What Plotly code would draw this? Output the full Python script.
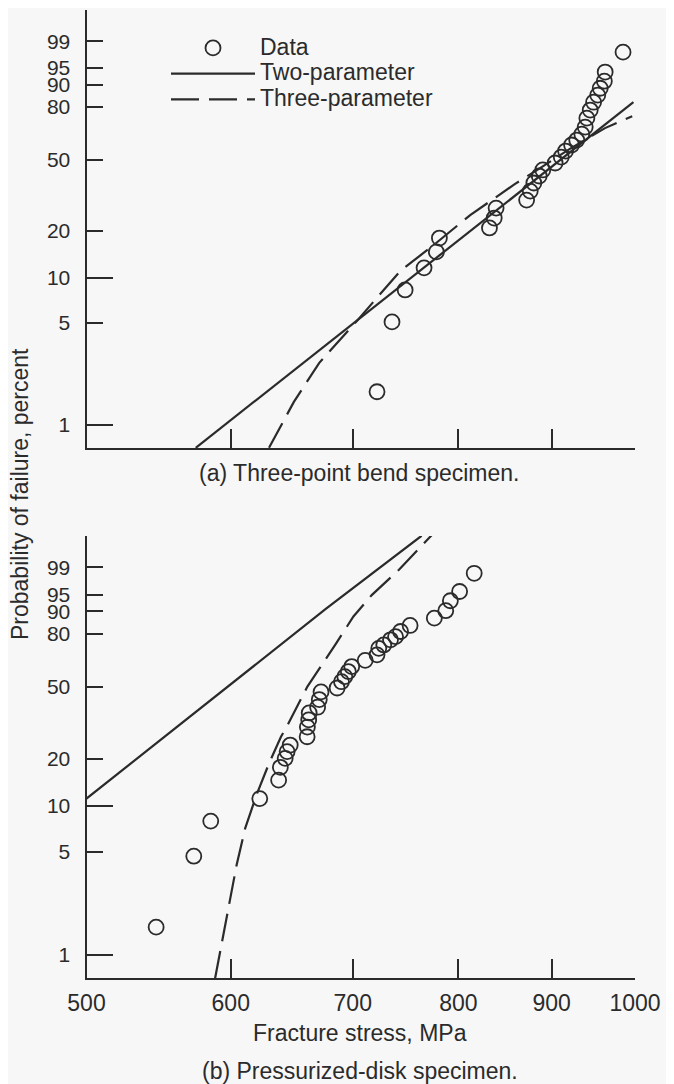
import numpy as np
import plotly.graph_objects as go

# ---------------- data ----------------
# (a) Three-point bend specimen
bend_stress = [721.8, 735.6, 747.9, 766, 778, 781, 832, 837, 839, 872, 876, 880, 886, 890,
               904, 911, 916, 923, 929, 935, 939, 941, 945, 949, 954, 957, 962, 963, 985]
bend_prob = [1.69, 5.07, 8.3, 11.6, 14.7, 18.0, 20.8, 23.9, 27.4, 30.5, 34.3, 38.0, 41.4, 44.5,
             48.2, 51.5, 54.9, 58.4, 61.3, 64.8, 68.9, 74.0, 78.4, 82.4, 85.7, 88.6, 91.2, 94.0, 97.9]
bend_two_stress = [574, 998]
bend_two_prob = [0.694, 82.4]
bend_three_stress = [629.7, 649.8, 671, 689, 706, 720, 744, 773, 812, 836, 859, 880, 920.5, 962.8, 996.5]
bend_three_prob = [0.694, 1.44, 2.67, 3.82, 5.39, 7.12, 11.2, 15.8, 24.9, 30.9, 37.5, 43.4, 56.0, 68.3, 75.1]

# (b) Pressurized-disk specimen
disk_stress = [546, 572.6, 585, 622.4, 637.4, 638.8, 642.7, 644.3, 646.8, 660.8, 661, 662.1, 662.5,
               669.6, 671, 672.5, 686.3, 690.1, 693, 696.1, 699.1, 711.1, 721.8, 723.4, 728, 734.2,
               738.9, 743.6, 752.6, 776, 787.3, 791.9, 801.2, 816.1]
disk_prob = [1.54, 4.66, 7.98, 11.2, 14.7, 17.7, 20.1, 22.1, 24.2, 27.1, 30.8, 33.8, 36.9,
             39.6, 43.4, 47.4, 49.5, 53.0, 55.9, 58.8, 61.7, 65.3, 68.5, 72.2, 74.1, 76.9,
             78.6, 81.2, 84.1, 87.3, 90.2, 93.4, 95.7, 98.5]
disk_two_stress = [500, 676.8, 763.6]
disk_two_prob = [11.2, 90.9, 99.95]
disk_three_stress = [588.2, 594.6, 599.8, 604.4, 611, 620.3, 629.7, 639.3, 644, 661, 685.6,
                     700.6, 717.2, 742.1, 773.8]
disk_three_prob = [0.686, 1.40, 2.61, 4.05, 7.14, 12.1, 18.7, 27.1, 31.0, 50.3, 75.1,
                   88.0, 94.95, 98.82, 99.956]

# axis ticks
x_ticks = [500, 600, 700, 800, 900, 1000]
y_ticks = [1, 5, 10, 20, 50, 80, 90, 95, 99]
y_long_ticks = [1, 10]


def weib(p):
    p = np.asarray(p, dtype=float) / 100.0
    return np.log(-np.log(1.0 - p))


INK = "#2b2b2b"
BG = "#f7f7f7"
FONT = "Liberation Sans, Arial, sans-serif"
FS = 23

W, H = 674, 1084
OFF = 8  # the page body offsets the figure by 8px


def px(v):
    return (v - OFF) / W


def py(v):
    return 1 - (v - OFF) / H


xdom = [px(86.5), px(635)]
ydom_top = [py(448.3), py(10)]
ydom_bot = [py(978.3), py(536)]
yr = [-4.975, 2.025]
xr = [np.log10(500), np.log10(1000)]

DASH = "28px,10px"
marker = dict(symbol="circle-open", size=15, color=INK, line=dict(width=1.8, color=INK))


def lg(name):
    return '<span style="font-size:%dpx">%s</span>' % (FS, name)


fig = go.Figure()

# top panel
fig.add_trace(go.Scatter(x=bend_stress, y=weib(bend_prob), mode="markers", marker=marker,
                         name=lg("Data"), xaxis="x", yaxis="y", cliponaxis=False))
fig.add_trace(go.Scatter(x=bend_two_stress, y=weib(bend_two_prob), mode="lines",
                         line=dict(color=INK, width=2.2), name=lg("Two-parameter"),
                         xaxis="x", yaxis="y"))
fig.add_trace(go.Scatter(x=bend_three_stress, y=weib(bend_three_prob), mode="lines",
                         line=dict(color=INK, width=2.2, dash=DASH), name=lg("Three-parameter"),
                         xaxis="x", yaxis="y"))
# bottom panel
fig.add_trace(go.Scatter(x=disk_stress, y=weib(disk_prob), mode="markers", marker=marker,
                         showlegend=False, xaxis="x2", yaxis="y2", cliponaxis=False))
fig.add_trace(go.Scatter(x=disk_two_stress, y=weib(disk_two_prob), mode="lines",
                         line=dict(color=INK, width=2.2), showlegend=False,
                         xaxis="x2", yaxis="y2"))
fig.add_trace(go.Scatter(x=disk_three_stress, y=weib(disk_three_prob), mode="lines",
                         line=dict(color=INK, width=2.2, dash=DASH), showlegend=False,
                         xaxis="x2", yaxis="y2"))
# invisible carriers for overlay tick axes
fig.add_trace(go.Scatter(x=[], y=[], xaxis="x3", yaxis="y3", showlegend=False))
fig.add_trace(go.Scatter(x=[], y=[], xaxis="x4", yaxis="y4", showlegend=False))

ytv = list(weib(y_ticks))
ytt = [str(v) for v in y_ticks]
ylong = list(weib(y_long_ticks))

common_x = dict(type="log", range=xr, domain=xdom, showline=True, linecolor=INK, linewidth=2,
                ticks="inside", ticklen=19, tickwidth=1.6, tickcolor=INK, tickmode="array",
                tickvals=x_ticks, showgrid=False, zeroline=False, fixedrange=True)
common_y = dict(range=yr, showline=True, linecolor=INK, linewidth=2, ticks="inside",
                ticklen=16, tickwidth=1.6, tickcolor=INK, tickmode="array", tickvals=ytv,
                ticktext=ytt, showgrid=False, zeroline=False, ticklabelstandoff=10,
                tickfont=dict(family=FONT, size=21, color=INK))
over = dict(ticks="inside", tickwidth=1.6, tickcolor=INK, tickmode="array",
            showticklabels=False, showline=False, showgrid=False, zeroline=False)

fig.update_layout(
    width=W, height=H, autosize=False,
    margin=dict(l=0, r=0, t=0, b=0, pad=0, autoexpand=False),
    paper_bgcolor=BG, plot_bgcolor=BG,
    font=dict(family=FONT, size=FS, color=INK),
    xaxis=dict(**common_x, anchor="y", showticklabels=False),
    yaxis=dict(**common_y, domain=ydom_top, anchor="x"),
    xaxis2=dict(**common_x, anchor="y2", showticklabels=True, ticklabelstandoff=3,
                tickfont=dict(family=FONT, size=FS, color=INK), ticktext=[str(v) for v in x_ticks]),
    yaxis2=dict(**common_y, domain=ydom_bot, anchor="x2"),
    xaxis3=dict(type="log", range=xr, domain=xdom, overlaying="x", anchor="y", ticklen=28,
                tickvals=[1000], **over),
    xaxis4=dict(type="log", range=xr, domain=xdom, overlaying="x2", anchor="y2", ticklen=28,
                tickvals=[1000], **over),
    yaxis3=dict(range=yr, domain=ydom_top, overlaying="y", anchor="x", ticklen=26,
                tickvals=ylong, **over),
    yaxis4=dict(range=yr, domain=ydom_bot, overlaying="y2", anchor="x2", ticklen=26,
                tickvals=ylong, **over),
    legend=dict(x=px(166), y=py(30), xanchor="left", yanchor="top",
                bgcolor="rgba(0,0,0,0)", borderwidth=0, itemwidth=84,
                font=dict(family=FONT, size=17.5, color=INK)),
    showlegend=True,
)

annos = [
    dict(text="(a) Three-point bend specimen.", x=px(359), y=py(473)),
    dict(text="Fracture stress, MPa", x=px(360), y=py(1033)),
    dict(text="(b) Pressurized-disk specimen.", x=px(360), y=py(1071)),
    dict(text="Probability of failure, percent", x=px(20), y=py(494), textangle=-90),
]
for a in annos:
    fig.add_annotation(xref="paper", yref="paper", showarrow=False, xanchor="center",
                       yanchor="middle", font=dict(family=FONT, size=FS, color=INK), **a)

fig.write_html("out.html")
